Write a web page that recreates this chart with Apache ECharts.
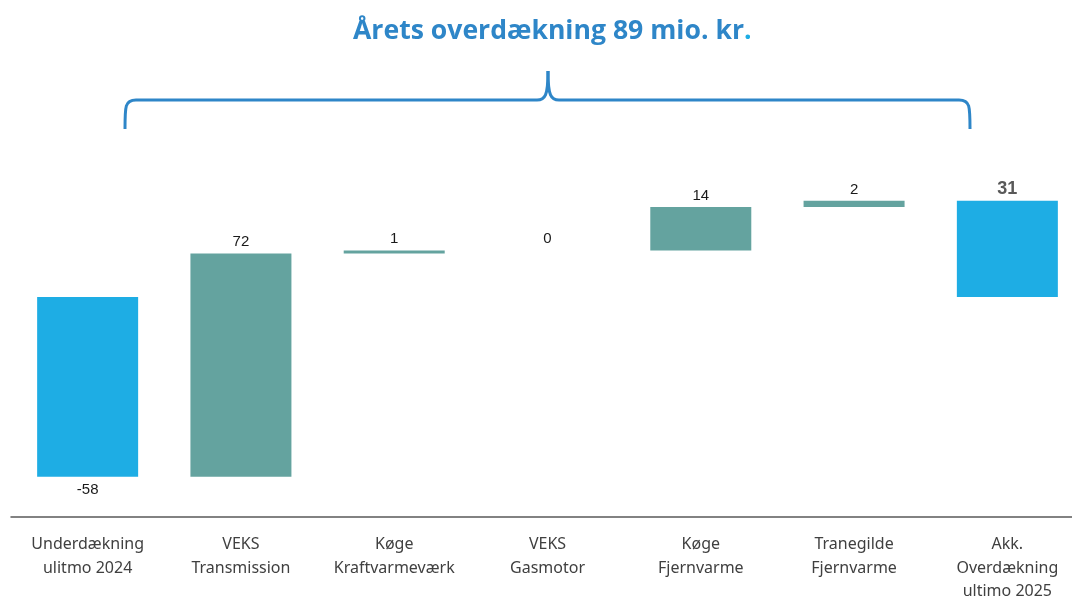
<!DOCTYPE html>
<html>
<head>
<meta charset="utf-8">
<script src="https://cdn.jsdelivr.net/npm/echarts@6/dist/echarts.min.js"></script>
<style>
  html, body { margin: 0; padding: 0; background: #ffffff; }
  #main { width: 1072px; height: 598px; }
</style>
</head>
<body>
<div id="main"></div>
<script>
var categories = [
    'Underdækning\nulitmo 2024',
    'VEKS\nTransmission',
    'Køge\nKraftvarmeværk',
    'VEKS\nGasmotor',
    'Køge\nFjernvarme',
    'Tranegilde\nFjernvarme',
    'Akk.\nOverdækning\nultimo 2025'
];
// change per step; last one is the total
var deltas = [-58, 72, 1, 0, 14, 2, 31];
var isTotal = [true, false, false, false, false, false, true];

var blue = '#1eade4';
var teal = '#64a39f';
var braceColor = '#2e86c8';

// build invisible base + visible step for the waterfall
var bases = [];
var steps = [];
var running = 0;
for (var i = 0; i < deltas.length; i++) {
    if (isTotal[i]) {
        bases[i] = 0;
        running = deltas[i];
    } else {
        bases[i] = running;
        running = running + deltas[i];
    }
    var neg = deltas[i] < 0;
    var last = i == deltas.length - 1;
    steps[i] = {
        value: deltas[i],
        itemStyle: { color: isTotal[i] ? blue : teal },
        label: last ? {
            position: 'top', distance: 3,
            fontSize: 18, fontWeight: 'bold', color: '#595959'
        } : { position: neg ? 'bottom' : 'top', distance: neg ? 6 : 4 }
    };
}

function braceLine(x1, y1, x2, y2) {
    return { type: 'line', shape: { x1: x1, y1: y1, x2: x2, y2: y2 },
             style: { stroke: braceColor, lineWidth: 3 } };
}
function braceCurve(x1, y1, c1x, c1y, c2x, c2y, x2, y2) {
    return { type: 'bezierCurve',
             shape: { x1: x1, y1: y1, cpx1: c1x, cpy1: c1y, cpx2: c2x, cpy2: c2y, x2: x2, y2: y2 },
             style: { fill: null, stroke: braceColor, lineWidth: 3 } };
}

var option = {
    animation: false,
    title: {
        text: '{a|Årets overdækning 89 mio. kr}{b|.}',
        left: 348,
        top: 13,
        textStyle: {
            rich: {
                a: { fontFamily: 'Open Sans', fontSize: 26.6, fontWeight: 'bold', color: braceColor },
                b: { fontFamily: 'Open Sans', fontSize: 26.6, fontWeight: 'bold', color: blue }
            }
        }
    },
    grid: {
        left: 11, right: -12, top: 49, bottom: 81,
        containLabel: false,
        outerBoundsMode: 'none'
    },
    xAxis: {
        type: 'category',
        data: categories,
        axisLine: { show: true, onZero: false, lineStyle: { color: '#595959', width: 1.5 } },
        axisTick: { show: false },
        axisLabel: {
            interval: 0,
            margin: 16,
            fontFamily: 'Noto Sans',
            fontSize: 16,
            lineHeight: 23.5,
            color: '#404040'
        }
    },
    yAxis: {
        type: 'value',
        min: -71,
        max: 80,
        show: false,
        splitLine: { show: false }
    },
    series: [
        {
            name: 'base',
            type: 'bar',
            stack: 'wf',
            stackStrategy: 'all',
            barWidth: 101,
            itemStyle: { color: 'transparent' },
            emphasis: { disabled: true },
            data: bases
        },
        {
            name: 'step',
            type: 'bar',
            stack: 'wf',
            stackStrategy: 'all',
            barWidth: 101,
            label: {
                show: true,
                distance: 4,
                fontFamily: 'Liberation Sans',
                fontSize: 15,
                color: '#1a1a1a'
            },
            data: steps
        }
    ],
    graphic: [
        braceCurve(125, 129, 125, 106, 125, 100, 136, 100),
        braceLine(136, 100, 537, 100),
        braceCurve(537, 100, 545, 100, 548, 96, 548, 71),
        braceCurve(548, 71, 548, 96, 551, 100, 559, 100),
        braceLine(559, 100, 959, 100),
        braceCurve(959, 100, 970, 100, 970, 106, 970, 129)
    ]
};

var chart = echarts.init(document.getElementById('main'));
chart.setOption(option);
</script>
</body>
</html>
